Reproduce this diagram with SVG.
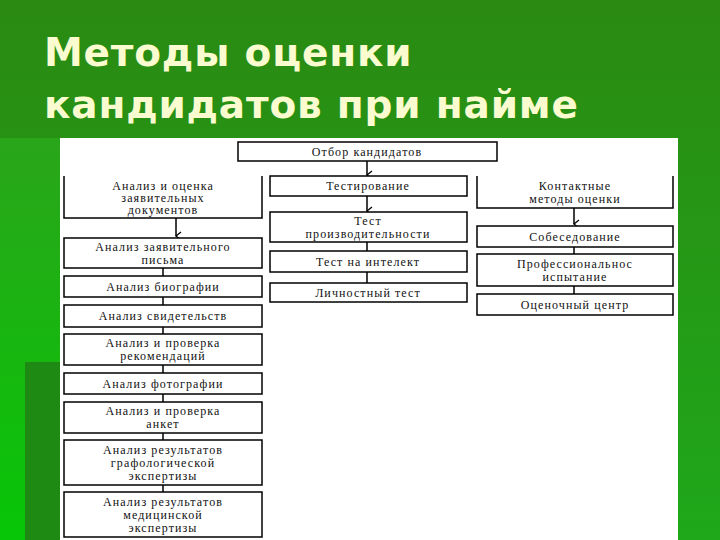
<svg xmlns="http://www.w3.org/2000/svg" width="720" height="540" viewBox="0 0 720 540">
<defs>
<linearGradient id="bg" x1="0" y1="0" x2="0" y2="1"><stop offset="0" stop-color="#2a8a12"/><stop offset="1" stop-color="#1fa81a"/></linearGradient>
<linearGradient id="lb" x1="0" y1="0" x2="0" y2="1"><stop offset="0" stop-color="#2aa51a"/><stop offset="1" stop-color="#07c607"/></linearGradient>
<marker id="ar" markerWidth="10" markerHeight="10" refX="5" refY="8" orient="auto" markerUnits="userSpaceOnUse"><path d="M1,3 L5,8 L9,3" fill="none" stroke="#000" stroke-width="1.3"/></marker>
</defs>
<style>
.b{fill:#fff;stroke:#000;stroke-width:1.5}
.t{font-family:"Liberation Serif",serif;font-size:12px;letter-spacing:1.1px;text-anchor:middle;fill:#111}
.c{stroke:#000;stroke-width:1.5;fill:none}
.h{font-family:"DejaVu Sans","Liberation Sans",sans-serif;font-weight:bold;font-size:39px;letter-spacing:0.8px;fill:#fbfbd0}
</style>
<rect width="720" height="540" fill="url(#bg)"/>
<rect x="0" y="138" width="60" height="402" fill="url(#lb)"/>
<rect x="25" y="362" width="35" height="178" fill="#1e8a14"/>
<text class="h" x="44" y="66">Методы оценки</text>
<text class="h" x="44" y="118">кандидатов при найме</text>
<rect x="60" y="138" width="618" height="402" fill="#fff"/>
<g id="connectors">
<path class="c" d="M367,161V175" marker-end="url(#ar)"/>
<path class="c" d="M176,218V236" marker-end="url(#ar)"/>
<path class="c" d="M367,196V211" marker-end="url(#ar)"/>
<path class="c" d="M574,208V224" marker-end="url(#ar)"/>
<path class="c" d="M163,268V276M163,297V305M163,327V334M163,365V373M163,394V402M163,433V440M163,485V492"/>
<path class="c" d="M367,242V251M367,272V283M574,247V254M574,286V294"/>
</g>
<g id="n0"><rect class="b" x="238" y="142" width="259" height="19"/><text class="t" x="367" y="156">Отбор кандидатов</text></g>
<g id="n1"><path class="b" d="M64,176V218H262V176"/><text class="t" x="163" y="190">Анализ и оценка</text><text class="t" x="163" y="202">заявительных</text><text class="t" x="163" y="214">документов</text></g>
<g id="n2"><rect class="b" x="64" y="238" width="198" height="30"/><text class="t" x="163" y="251">Анализ заявительного</text><text class="t" x="163" y="264">письма</text></g>
<g id="n3"><rect class="b" x="64" y="276" width="198" height="21"/><text class="t" x="163" y="291">Анализ биографии</text></g>
<g id="n4"><rect class="b" x="64" y="305" width="198" height="22"/><text class="t" x="163" y="320">Анализ свидетельств</text></g>
<g id="n5"><rect class="b" x="64" y="334" width="198" height="31"/><text class="t" x="163" y="347">Анализ и проверка</text><text class="t" x="163" y="360">рекомендаций</text></g>
<g id="n6"><rect class="b" x="64" y="373" width="198" height="21"/><text class="t" x="163" y="388">Анализ фотографии</text></g>
<g id="n7"><rect class="b" x="64" y="402" width="198" height="31"/><text class="t" x="163" y="415">Анализ и проверка</text><text class="t" x="163" y="428">анкет</text></g>
<g id="n8"><rect class="b" x="64" y="440" width="198" height="45"/><text class="t" x="163" y="454">Анализ результатов</text><text class="t" x="163" y="467">графологической</text><text class="t" x="163" y="480">экспертизы</text></g>
<g id="n9"><rect class="b" x="64" y="492" width="198" height="45"/><text class="t" x="163" y="506">Анализ результатов</text><text class="t" x="163" y="519">медицинской</text><text class="t" x="163" y="532">экспертизы</text></g>
<g id="n10"><rect class="b" x="270" y="176" width="197" height="20"/><text class="t" x="368" y="190">Тестирование</text></g>
<g id="n11"><rect class="b" x="270" y="212" width="197" height="30"/><text class="t" x="368" y="225">Тест</text><text class="t" x="368" y="238">производительности</text></g>
<g id="n12"><rect class="b" x="270" y="251" width="197" height="21"/><text class="t" x="368" y="266">Тест на интелект</text></g>
<g id="n13"><rect class="b" x="270" y="283" width="197" height="19"/><text class="t" x="368" y="297">Личностный тест</text></g>
<g id="n14"><path class="b" d="M477,176V208H673V176"/><text class="t" x="575" y="190">Контактные</text><text class="t" x="575" y="203">методы оценки</text></g>
<g id="n15"><rect class="b" x="477" y="226" width="196" height="21"/><text class="t" x="575" y="241">Собеседование</text></g>
<g id="n16"><rect class="b" x="477" y="254" width="196" height="32"/><text class="t" x="575" y="268">Профессиональнос</text><text class="t" x="575" y="281">испытание</text></g>
<g id="n17"><rect class="b" x="477" y="294" width="196" height="21"/><text class="t" x="575" y="309">Оценочный центр</text></g>
</svg>
